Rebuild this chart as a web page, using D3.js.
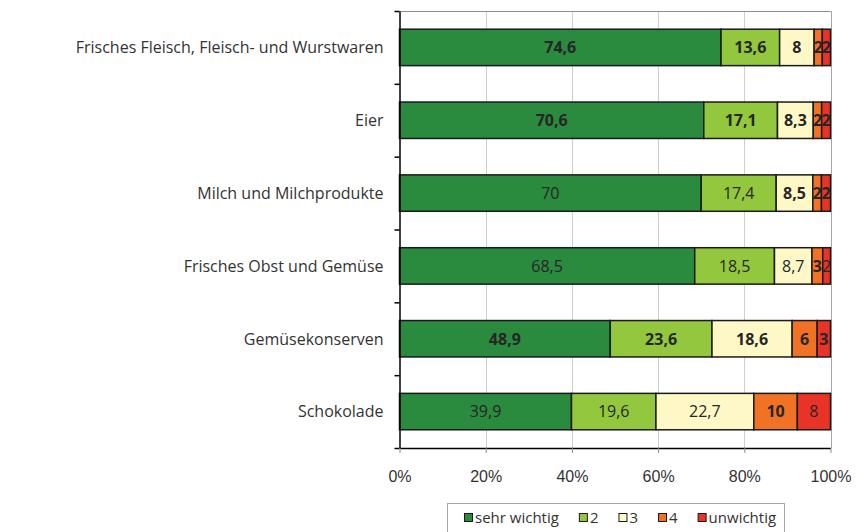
<!DOCTYPE html>
<html>
<head>
<meta charset="utf-8">
<script src="https://cdn.jsdelivr.net/npm/d3@7"></script>
<style>
    body { margin: 0; background: #fff; }
    svg { display: block; }
</style>
</head>
<body>
<div id="chart"></div>
<script>
const dim = { width: 860, height: 532 };
const margin = { top: 11, left: 399.5, right: 29.5, bottom: 84 };

const categories = [
    "Frisches Fleisch, Fleisch- und Wurstwaren",
    "Eier",
    "Milch und Milchprodukte",
    "Frisches Obst und Gemüse",
    "Gemüsekonserven",
    "Schokolade"
];
const seriesNames = ["sehr wichtig", "2", "3", "4", "unwichtig"];
const colors = ["#2a8a3e", "#93c73d", "#fdf8c6", "#f17125", "#e93326"];

// shares in percent, one array per rating
const sehrWichtig = [74.6, 70.6, 70, 68.5, 48.9, 39.9];
const note2 = [13.6, 17.1, 17.4, 18.5, 23.6, 19.6];
const note3 = [8, 8.3, 8.5, 8.7, 18.6, 22.7];
const note4 = [1.9, 1.95, 2, 2.5, 5.8, 10.1];
const unwichtig = [1.9, 2.05, 2.1, 1.8, 3.1, 7.7];
// labels of ratings 4 and 5 are shown rounded
const roundedSeries = [false, false, false, true, true];
// highlighted (bold) labels per category
const boldLabels = [
    [true, true, true, true, true],
    [true, true, true, true, true],
    [false, false, true, true, true],
    [false, false, false, true, false],
    [true, true, true, true, true],
    [false, false, false, true, false]
];
const xTicks = [0, 0.2, 0.4, 0.6, 0.8, 1];

const seriesValues = [sehrWichtig, note2, note3, note4, unwichtig];
const rows = categories.map((c, i) => {
    const row = { category: c, index: i };
    seriesNames.forEach((s, j) => row[s] = seriesValues[j][i]);
    return row;
});

const stacked = d3.stack()
    .keys(seriesNames)
    .offset(d3.stackOffsetExpand)(rows);

const svg = d3.select("#chart").append("svg")
    .attr("width", dim.width)
    .attr("height", dim.height);

const x = d3.scaleLinear()
    .domain([0, 1])
    .range([margin.left, dim.width - margin.right]);

const y = d3.scaleBand()
    .domain(categories)
    .range([margin.top, dim.height - margin.bottom])
    .paddingInner(0.5)
    .paddingOuter(0.25);

const yEdges = d3.scaleLinear()
    .domain([0, categories.length])
    .range([margin.top, dim.height - margin.bottom]);

// gridlines + plot frame
svg.append("g")
    .selectAll("line")
    .data(xTicks.slice(1))
    .enter().append("line")
    .attr("x1", d => Math.round(x(d)) + 0.5)
    .attr("x2", d => Math.round(x(d)) + 0.5)
    .attr("y1", margin.top)
    .attr("y2", dim.height - margin.bottom)
    .attr("stroke", d => d === 1 ? "#a6a6a6" : "#cfcfcf")
    .attr("stroke-width", 1);

svg.append("line")
    .attr("x1", x(0))
    .attr("x2", x(1))
    .attr("y1", margin.top + 0.5)
    .attr("y2", margin.top + 0.5)
    .attr("stroke", "#8c8c8c");

// bars
const layer = svg.selectAll(".layer")
    .data(stacked)
    .enter().append("g")
    .attr("class", "layer")
    .attr("fill", (d, i) => colors[i]);

layer.selectAll("rect")
    .data(d => d)
    .enter().append("rect")
    .attr("x", d => x(d[0]))
    .attr("y", d => y(d.data.category))
    .attr("width", d => x(d[1]) - x(d[0]))
    .attr("height", y.bandwidth())
    .attr("stroke", "#1a1a1a")
    .attr("stroke-width", 1.5);

// value labels
const fmt = v => String(v).replace(".", ",");
stacked.forEach((s, si) => {
    svg.append("g")
        .selectAll("text")
        .data(s)
        .enter().append("text")
        .attr("x", d => (x(d[0]) + x(d[1])) / 2)
        .attr("y", d => y(d.data.category) + y.bandwidth() / 2)
        .attr("dy", "0.36em")
        .attr("text-anchor", "middle")
        .attr("font-family", "'Open Sans', sans-serif")
        .attr("font-size", 16)
        .attr("font-weight", d => boldLabels[d.data.index][si] ? "bold" : "normal")
        .attr("fill", "#262626")
        .text(d => {
            const v = d.data[s.key];
            return roundedSeries[si] ? Math.round(v) : fmt(v);
        });
});

// axes
svg.append("g")
    .attr("class", "yAxis")
    .attr("transform", `translate(${x(0)},0)`)
    .call(d3.axisLeft(yEdges).tickValues(d3.range(categories.length + 1)).tickFormat("").tickSize(5).tickSizeOuter(0))
    .call(g => g.selectAll("line, path").attr("stroke", "#000").attr("stroke-width", 1.5));

svg.selectAll(".catLabel")
    .data(categories)
    .enter().append("text")
    .attr("class", "catLabel")
    .attr("x", x(0) - 16)
    .attr("y", d => y(d) + y.bandwidth() / 2)
    .attr("dy", "0.36em")
    .attr("text-anchor", "end")
    .attr("font-family", "'Open Sans', sans-serif")
    .attr("font-size", 16)
    .attr("fill", "#333")
    .text(d => d);

svg.append("g")
    .attr("class", "xAxis")
    .attr("transform", `translate(0,${dim.height - margin.bottom})`)
    .call(d3.axisBottom(x).tickValues(xTicks).tickFormat(d3.format(".0%")).tickSize(5).tickSizeOuter(0).tickPadding(18))
    .call(g => g.select("path").attr("stroke", "#000").attr("stroke-width", 1.5))
    .call(g => g.selectAll(".tick line").attr("stroke", "#8c8c8c"))
    .call(g => g.selectAll("text")
        .attr("font-family", "'Liberation Sans', Arial, sans-serif")
        .attr("font-size", 16)
        .attr("fill", "#333"));

// legend
const legend = svg.append("g").attr("class", "legend");
legend.append("rect")
    .attr("x", 447.5)
    .attr("y", 503.5)
    .attr("width", 337)
    .attr("height", 40)
    .attr("fill", "#fff")
    .attr("stroke", "#a6a6a6");

let lx = 464;
seriesNames.forEach((name, i) => {
    legend.append("rect")
        .attr("x", lx + 0.5)
        .attr("y", 513.5)
        .attr("width", 8)
        .attr("height", 8)
        .attr("fill", colors[i])
        .attr("stroke", "#1a1a1a")
        .attr("stroke-width", 1);
    const t = legend.append("text")
        .attr("x", lx + 11)
        .attr("y", 523)
        .attr("font-family", "'Open Sans', sans-serif")
        .attr("font-size", 15)
        .attr("fill", "#333")
        .text(name);
    lx += 11 + t.node().getComputedTextLength() + 20;
});
</script>
</body>
</html>
